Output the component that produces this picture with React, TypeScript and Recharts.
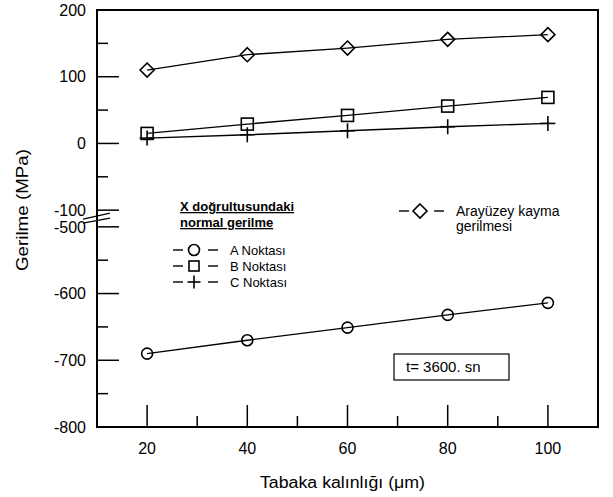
import React from 'react';
import { LineChart, Line, XAxis, YAxis } from 'recharts';

// tabaka kalinligi (um)
const thickness = [20, 40, 60, 80, 100];
// X dogrultusundaki normal gerilme
const aNoktasi = [-690, -670, -651, -632, -614];
const bNoktasi = [15, 29, 42, 56, 69];
const cNoktasi = [8, 13, 19, 25, 30];
// arayuzey kayma gerilmesi
const arayuzey = [110, 133, 143, 156, 163];

const xTicks = [20, 30, 40, 50, 60, 70, 80, 90, 100];
const upperTicks = [200, 150, 100, 50, 0, -50, -100];
const lowerTicks = [-500, -550, -600, -650, -700, -750, -800];

// axis break: -100 ... -500 is squeezed to a 25 unit gap
const SHIFT = 375;
const toAxis = (v: number) => (v <= -500 ? v + SHIFT : v);
const toLabel = (t: number) => (t < -100 ? t - SHIFT : t);

const yTicks = [...upperTicks, ...lowerTicks].map(toAxis);

const data = thickness.map((x, i) => ({
  x,
  a: toAxis(aNoktasi[i]),
  b: bNoktasi[i],
  c: cNoktasi[i],
  d: arayuzey[i],
}));

const FONT = '"Liberation Sans", Arial, sans-serif';
const INK = '#000';

const isMajorY = (t: number) => toLabel(t) % 100 === 0;

const LeftTick = ({ x, y, payload }: any) => {
  const t = payload.value;
  const major = isMajorY(t);
  return (
    <g>
      <line x1={x} y1={y} x2={x + (major ? 22 : 11)} y2={y} stroke={INK} strokeWidth={1.5} />
      {major && (
        <text x={x - 11} y={y} dy="0.36em" textAnchor="end" fontSize={16} fontFamily={FONT} fill={INK}>
          {toLabel(t)}
        </text>
      )}
      {t === -100 && (
        <g stroke={INK} strokeWidth={1.4}>
          <line x1={x - 14} y1={y + 9} x2={x + 13} y2={y + 3} />
          <line x1={x - 14} y1={y + 13} x2={x + 13} y2={y + 8} />
        </g>
      )}
    </g>
  );
};

const RightTick = ({ x, y, payload }: any) => {
  const t = payload.value;
  const major = isMajorY(t);
  return (
    <g>
      <line x1={x} y1={y} x2={x - (major ? 21 : 11)} y2={y} stroke={INK} strokeWidth={1.5} />
      {t === -100 && (
        <g stroke={INK} strokeWidth={1.4}>
          <line x1={x - 14} y1={y + 6} x2={x + 1} y2={y + 2} />
          <line x1={x - 14} y1={y + 12} x2={x + 1} y2={y + 9} />
        </g>
      )}
    </g>
  );
};

const BottomTick = ({ x, y, payload }: any) => {
  const major = payload.value % 20 === 0;
  return (
    <g>
      <line x1={x} y1={y} x2={x} y2={y - (major ? 22 : 11)} stroke={INK} strokeWidth={1.5} />
      {major && (
        <text x={x} y={y + 21} dy="0.36em" textAnchor="middle" fontSize={16} fontFamily={FONT} fill={INK}>
          {payload.value}
        </text>
      )}
    </g>
  );
};

const TopTick = ({ x, y, payload }: any) => {
  const major = payload.value % 20 === 0;
  return <line x1={x} y1={y} x2={x} y2={y + (major ? 22 : 10)} stroke={INK} strokeWidth={1.5} />;
};

const Circle = ({ cx, cy, r = 5.5 }: any) => (
  <circle cx={cx} cy={cy} r={r} fill="none" stroke={INK} strokeWidth={1.6} />
);
const Square = ({ cx, cy, s = 6 }: any) => (
  <rect x={cx - s} y={cy - s} width={s * 2} height={s * 2} fill="none" stroke={INK} strokeWidth={1.6} />
);
const Plus = ({ cx, cy, s = 7.5 }: any) => (
  <g stroke={INK} strokeWidth={1.6}>
    <line x1={cx - s} y1={cy} x2={cx + s} y2={cy} />
    <line x1={cx} y1={cy - s} x2={cx} y2={cy + s} />
  </g>
);
const Diamond = ({ cx, cy, s = 7 }: any) => (
  <polygon
    points={`${cx},${cy - s} ${cx + s},${cy} ${cx},${cy + s} ${cx - s},${cy}`}
    fill="none"
    stroke={INK}
    strokeWidth={1.6}
  />
);

const dotOf = (Shape: any) => (p: any) => <Shape key={p.index} cx={p.cx} cy={p.cy} />;

const LegendRow = ({ x, y, Shape, label, size = 13 }: any) => (
  <g>
    <line x1={x - 21} y1={y} x2={x - 11} y2={y} stroke={INK} strokeWidth={1.4} />
    <Shape cx={x} cy={y} />
    <line x1={x + 14} y1={y} x2={x + 24} y2={y} stroke={INK} strokeWidth={1.4} />
    <text x={x + 36} y={y} dy="0.36em" fontSize={size} fontFamily={FONT} fill={INK}>
      {label}
    </text>
  </g>
);

// plot frame, same box as the chart margins and axis sizes below
const PLOT = { left: 97, top: 10, right: 598, bottom: 427 };
const W = 2;

export default function App() {
  return (
    <div style={{ position: 'absolute', left: 0, top: 0, width: 613, height: 497, background: '#fff' }}>
      <LineChart width={613} height={497} data={data} margin={{ top: 10, right: 15, left: 0, bottom: 0 }}>
        <XAxis
          xAxisId="b"
          dataKey="x"
          type="number"
          domain={[10, 110]}
          allowDataOverflow
          ticks={xTicks}
          interval={0}
          height={70}
          tickSize={0}
          tickMargin={0}
          tickLine={false}
          axisLine={false}
          tick={<BottomTick />}
        />
        <XAxis
          xAxisId="t"
          orientation="top"
          type="number"
          domain={[10, 110]}
          allowDataOverflow
          ticks={xTicks}
          interval={0}
          height={0}
          tickSize={0}
          tickMargin={0}
          tickLine={false}
          axisLine={false}
          tick={<TopTick />}
        />
        <YAxis
          yAxisId="l"
          type="number"
          domain={[-425, 200]}
          allowDataOverflow
          ticks={yTicks}
          interval={0}
          width={97}
          tickSize={0}
          tickMargin={0}
          tickLine={false}
          axisLine={false}
          tick={<LeftTick />}
        />
        <YAxis
          yAxisId="r"
          orientation="right"
          type="number"
          domain={[-425, 200]}
          allowDataOverflow
          ticks={yTicks}
          interval={0}
          width={0}
          tickSize={0}
          tickMargin={0}
          tickLine={false}
          axisLine={false}
          tick={<RightTick />}
        />
        <Line xAxisId="b" yAxisId="l" dataKey="d" stroke={INK} strokeWidth={1.3} dot={dotOf(Diamond)} activeDot={false} isAnimationActive={false} />
        <Line xAxisId="b" yAxisId="l" dataKey="b" stroke={INK} strokeWidth={1.3} dot={dotOf(Square)} activeDot={false} isAnimationActive={false} />
        <Line xAxisId="b" yAxisId="l" dataKey="c" stroke={INK} strokeWidth={1.3} dot={dotOf(Plus)} activeDot={false} isAnimationActive={false} />
        <Line xAxisId="b" yAxisId="l" dataKey="a" stroke={INK} strokeWidth={1.3} dot={dotOf(Circle)} activeDot={false} isAnimationActive={false} />
      </LineChart>
      <svg width={613} height={497} style={{ position: 'absolute', left: 0, top: 0, pointerEvents: 'none' }}>
        <g fill={INK}>
          <rect x={PLOT.left - W / 2} y={PLOT.top - W / 2} width={W} height={PLOT.bottom - PLOT.top + W} />
          <rect x={PLOT.right - W / 2} y={PLOT.top - W / 2} width={W} height={PLOT.bottom - PLOT.top + W} />
          <rect x={PLOT.left - W / 2} y={PLOT.top - W / 2} width={PLOT.right - PLOT.left + W} height={W} />
          <rect x={PLOT.left - W / 2} y={PLOT.bottom - W / 2} width={PLOT.right - PLOT.left + W} height={W} />
        </g>
        <text
          transform="translate(28,210) rotate(-90)"
          textAnchor="middle"
          fontSize={17}
          fontFamily={FONT}
          fill={INK}
          textLength={122}
          lengthAdjust="spacingAndGlyphs"
        >
          Gerilme (MPa)
        </text>
        <text x={260} y={488} fontSize={16} fontFamily={FONT} fill={INK} textLength={165} lengthAdjust="spacingAndGlyphs">
          Tabaka kalınlığı (μm)
        </text>

        <text x={180} y={211} fontSize={13} fontWeight="bold" fontFamily={FONT} fill={INK} textDecoration="underline">
          X doğrultusundaki
        </text>
        <text x={180} y={227} fontSize={13} fontWeight="bold" fontFamily={FONT} fill={INK} textDecoration="underline">
          normal gerilme
        </text>
        <LegendRow x={194} y={250} Shape={Circle} label="A Noktası" />
        <LegendRow x={194} y={266} Shape={(p: any) => <Square {...p} s={5} />} label="B Noktası" />
        <LegendRow x={194} y={282} Shape={(p: any) => <Plus {...p} s={6.5} />} label="C Noktası" />

        <LegendRow x={420} y={211} Shape={Diamond} label="Arayüzey kayma" size={14} />
        <text x={456} y={226} dy="0.36em" fontSize={14} fontFamily={FONT} fill={INK}>
          gerilmesi
        </text>

        <rect x={394} y={354} width={115} height={26} fill="#fff" stroke={INK} strokeWidth={1.2} />
        <text x={406} y={367} dy="0.36em" fontSize={15} fontFamily={FONT} fill={INK}>
          t= 3600. sn
        </text>
      </svg>
    </div>
  );
}
